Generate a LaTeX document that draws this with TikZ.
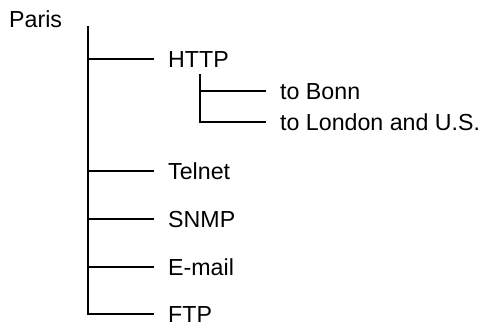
\documentclass[tikz,border=0pt]{standalone}
\usepackage{fontspec}
\setmainfont{Liberation Sans}
\begin{document}
\begin{tikzpicture}[x=1pt,y=-1pt,
  lbl/.style={anchor=west,inner sep=0pt,text height=16.6pt,text depth=0pt,font=\fontsize{23.2}{28}\selectfont},
  tree/.style={line width=1.3pt,line cap=rect}]
\useasboundingbox (0,0) rectangle (487,325);
\node[lbl] (paris) at (9,19) {Paris};
\node[lbl] (http) at (168,59) {HTTP};
\node[lbl] (bonn) at (280,91) {to Bonn};
\node[lbl] (london) at (280,122) {to London and U.S.};
\node[lbl] (telnet) at (168,171) {Telnet};
\node[lbl] (snmp) at (168,219) {SNMP};
\node[lbl] (email) at (168,267) {E-mail};
\node[lbl] (ftp) at (168,314) {FTP};
\coordinate (t1) at (88,27);
\coordinate (t2) at (200,75);
\draw[tree] (t1) |- ([xshift=-15pt]ftp.west);
\draw[tree] (t1 |- http.west) -- ([xshift=-15pt]http.west);
\draw[tree] (t1 |- telnet.west) -- ([xshift=-15pt]telnet.west);
\draw[tree] (t1 |- snmp.west) -- ([xshift=-15pt]snmp.west);
\draw[tree] (t1 |- email.west) -- ([xshift=-15pt]email.west);
\draw[tree] (t2) |- ([xshift=-15pt]london.west);
\draw[tree] (t2 |- bonn.west) -- ([xshift=-15pt]bonn.west);
\end{tikzpicture}
\end{document}
